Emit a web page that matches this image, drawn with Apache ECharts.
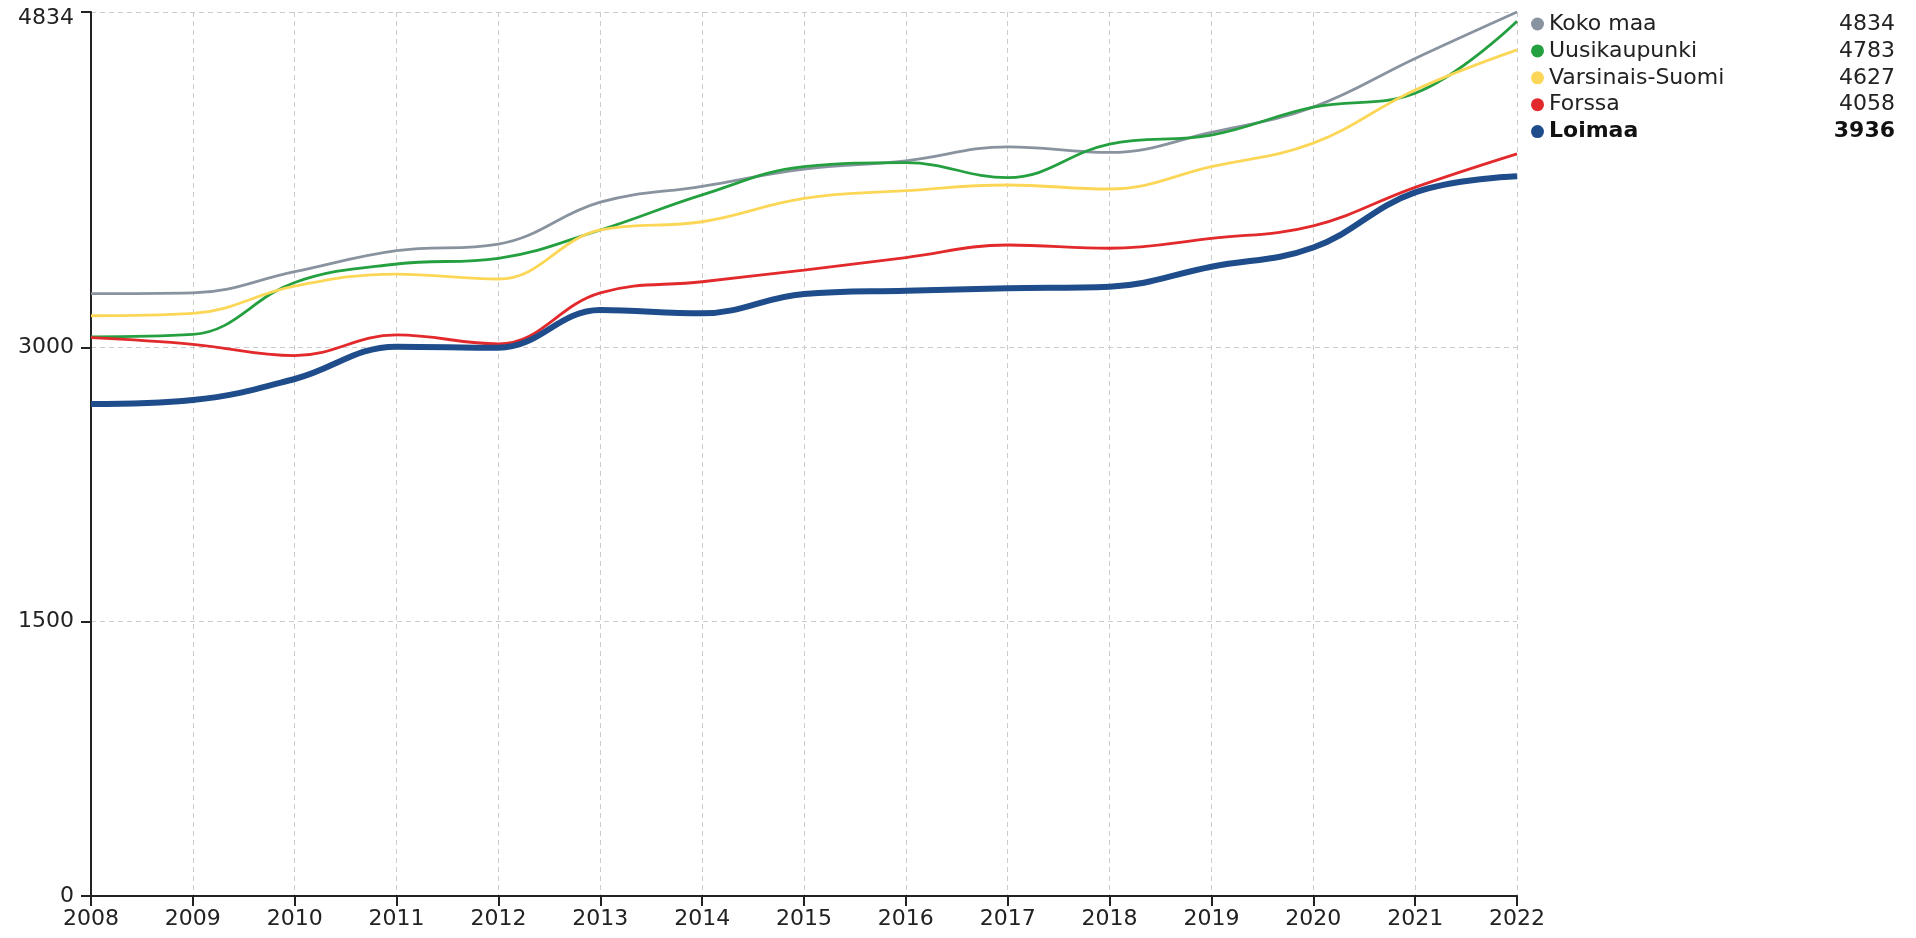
<!DOCTYPE html>
<html>
<head>
<meta charset="utf-8">
<script src="https://cdn.jsdelivr.net/npm/echarts@6/dist/echarts.min.js"></script>
<style>
  html, body { margin: 0; padding: 0; background: #fff; }
  #chart { width: 1916px; height: 938px; }
</style>
</head>
<body>
<div id="chart"></div>
<script>
// vuodet ja arvot
const years = ['2008', '2009', '2010', '2011', '2012', '2013', '2014', '2015', '2016', '2017', '2018', '2019', '2020', '2021', '2022']
const kokoMaa = [3294, 3298, 3414, 3529, 3565, 3794, 3881, 3975, 4020, 4097, 4066, 4176, 4314, 4580, 4834]
const uusikaupunki = [3058, 3071, 3355, 3456, 3487, 3642, 3834, 3988, 4010, 3928, 4112, 4161, 4314, 4390, 4783]
const varsinaisSuomi = [3173, 3186, 3335, 3401, 3374, 3642, 3687, 3815, 3857, 3888, 3866, 3988, 4117, 4408, 4627]
const forssa = [3053, 3017, 2955, 3068, 3019, 3298, 3359, 3423, 3491, 3560, 3542, 3596, 3665, 3875, 4058]
const loimaa = [2690, 2712, 2827, 3004, 2998, 3204, 3186, 3292, 3310, 3323, 3332, 3441, 3546, 3848, 3936]
const yTicks = [0, 1500, 3000, 4834]

const seriesList = [
    { name: 'Koko maa', data: kokoMaa, color: '#89939f', width: 2.8 },
    { name: 'Uusikaupunki', data: uusikaupunki, color: '#25a040', width: 2.8 },
    { name: 'Varsinais-Suomi', data: varsinaisSuomi, color: '#fcd757', width: 2.8 },
    { name: 'Forssa', data: forssa, color: '#e2292b', width: 2.8 },
    { name: 'Loimaa', data: loimaa, color: '#1f4c8a', width: 6, bold: true },
]

const font = 'DejaVu Sans'
const yMax = yTicks[yTicks.length - 1]

let option = {
    animation: false,
    grid: { left: 91, right: 399, top: 12, bottom: 42, containLabel: false },
    legend: {
        orient: 'vertical',
        left: 1526,
        top: 8,
        icon: 'circle',
        itemWidth: 13,
        itemHeight: 13,
        itemGap: 4.9,
        selectedMode: false,
        data: seriesList.map(s => s.name),
        formatter: function (name) {
            const s = seriesList.find(x => x.name === name)
            const last = s.data[s.data.length - 1]
            return s.bold ? '{nb|' + name + '}{vb|' + last + '}' : '{n|' + name + '}{v|' + last + '}'
        },
        textStyle: {
            fontFamily: font,
            fontSize: 22,
            color: '#222',
            rich: {
                n: { width: 278, fontSize: 22, fontFamily: font, color: '#222', lineHeight: 23 },
                v: { width: 68, align: 'right', fontSize: 22, fontFamily: font, color: '#222', lineHeight: 23 },
                nb: { width: 278, fontSize: 22, fontFamily: font, fontWeight: 'bold', color: '#111', lineHeight: 23 },
                vb: { width: 68, align: 'right', fontSize: 22, fontFamily: font, fontWeight: 'bold', color: '#111', lineHeight: 23 },
            }
        }
    },
    xAxis: {
        type: 'category',
        data: years,
        boundaryGap: false,
        axisLine: { lineStyle: { color: '#222', width: 2 } },
        axisTick: { show: true, length: 10, lineStyle: { color: '#222', width: 2 } },
        axisLabel: { fontFamily: font, fontSize: 22, color: '#222', margin: 12 },
        splitLine: { show: true, lineStyle: { color: '#cccccc', type: [5, 4], width: 1 } },
    },
    yAxis: {
        type: 'value',
        min: 0,
        max: yMax,
        axisLine: { show: true, lineStyle: { color: '#222', width: 2 } },
        axisTick: { show: true, length: 10, customValues: yTicks, lineStyle: { color: '#222', width: 2 } },
        axisLabel: {
            fontFamily: font, fontSize: 22, color: '#222', margin: 17, customValues: yTicks,
            // ylin luku hieman alemmas, ettei leikkaudu
            formatter: v => v === yMax ? '{top|' + v + '}' : String(v),
            rich: { top: { fontFamily: font, fontSize: 22, color: '#222', padding: [13, 0, 0, 0] } }
        },
        splitLine: { show: true, lineStyle: { color: '#cccccc', type: [5, 4], width: 1 } },
    },
    series: seriesList.map(s => ({
        name: s.name,
        type: 'line',
        data: s.data,
        smooth: 0.4,
        showSymbol: false,
        symbol: 'none',
        color: s.color,
        lineStyle: { color: s.color, width: s.width },
        emphasis: { disabled: true },
    })),
}

const eChart = echarts.init(document.getElementById('chart'))
eChart.setOption(option)
</script>
</body>
</html>
